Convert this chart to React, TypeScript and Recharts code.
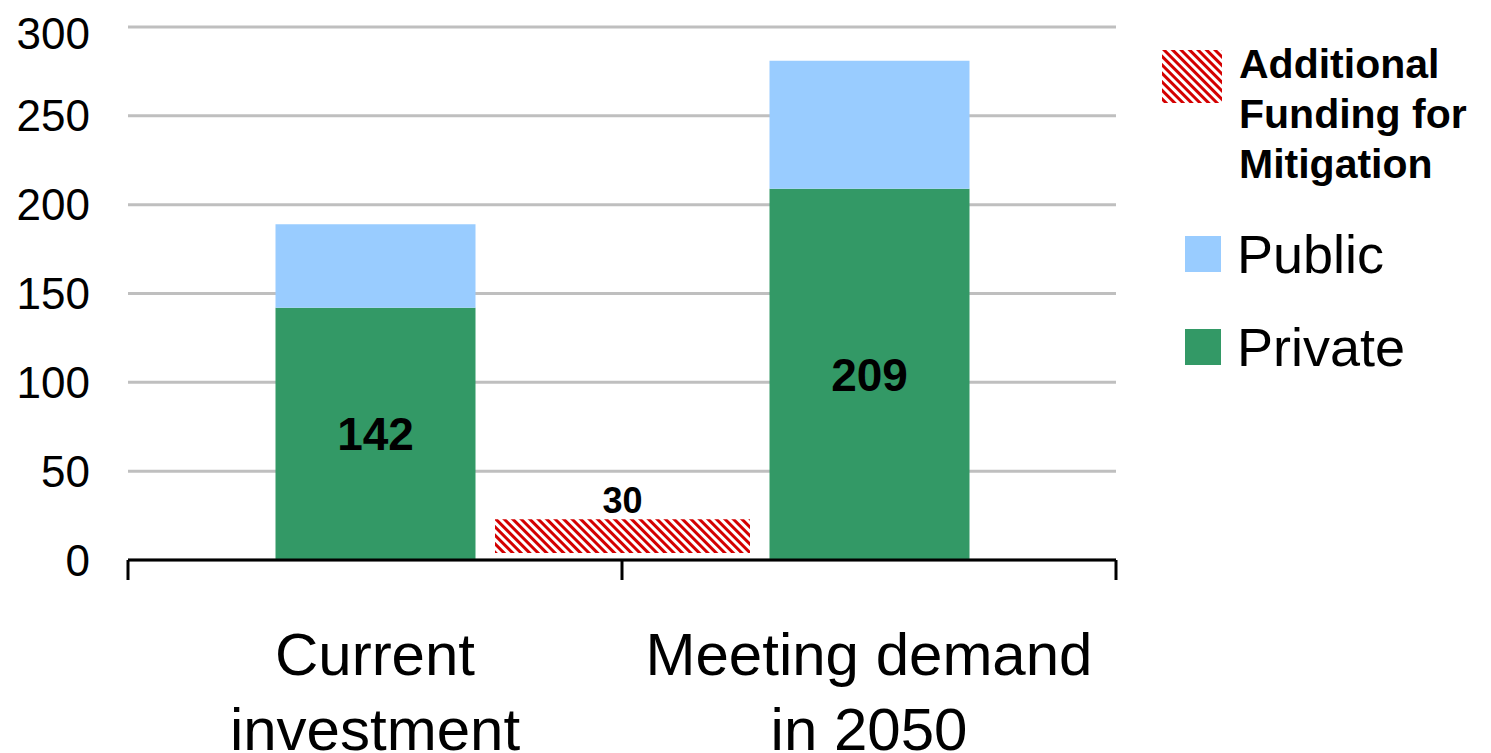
import {
  ComposedChart,
  Bar,
  XAxis,
  YAxis,
  CartesianGrid,
  LabelList,
} from "recharts";

// categories (line breaks are where the picture wraps them)
const categories = ["Current\ninvestment", "Meeting demand\nin 2050"];
const privateValues = [142, 209];
const publicValues = [47, 72];

// the hatched bar sits between the two categories
const additionalRange: [number, number] = [4, 23];
const additionalLabel = "30";

const yTicks = [0, 50, 100, 150, 200, 250, 300];
// whole numbers = tick marks between categories, halves = category names
const xTicks = [0, 0.5, 1, 1.5, 2];

const legendItems = [
  { name: "Additional\nFunding for\nMitigation", kind: "hatch" },
  { name: "Public", color: "#99ccff" },
  { name: "Private", color: "#339966" },
];

const data = [
  { pos: 0.5, private: privateValues[0], public: publicValues[0] },
  { pos: 1, additional: additionalRange, additionalLabel },
  { pos: 1.5, private: privateValues[1], public: publicValues[1] },
];

const FONT = '"Liberation Sans", Arial, sans-serif';

const XTick = (props: any) => {
  const { x, y, payload } = props;
  const v = payload.value;
  if (Number.isInteger(v)) {
    return <line x1={x} x2={x} y1={y} y2={y + 20} stroke="#000" strokeWidth={3} />;
  }
  const lines = (categories[Math.floor(v)] || "").split("\n");
  return (
    <text x={x} y={y} textAnchor="middle" fontSize={60} fontFamily={FONT} fill="#000">
      {lines.map((l, i) => (
        <tspan key={i} x={x} dy={i === 0 ? 115 : 75}>
          {l}
        </tspan>
      ))}
    </text>
  );
};

const Legend = () => (
  <div style={{ position: "absolute", left: 1150, top: 0, fontFamily: FONT, color: "#000" }}>
    <svg width={60} height={53} style={{ position: "absolute", left: 4, top: 42 }}>
      <rect width={60} height={53} fill="url(#hatch)" />
    </svg>
    <div
      style={{
        position: "absolute",
        left: 81,
        top: 31,
        fontSize: 41,
        fontWeight: "bold",
        lineHeight: "50px",
        whiteSpace: "pre",
      }}
    >
      {legendItems[0].name}
    </div>
    {legendItems.slice(1).map((it, i) => (
      <div key={it.name}>
        <div
          style={{
            position: "absolute",
            left: 27,
            top: 228 + i * 93,
            width: 36,
            height: 36,
            background: it.color,
          }}
        />
        <div
          style={{
            position: "absolute",
            left: 79,
            top: 215 + i * 93,
            fontSize: 54,
            lineHeight: "62px",
            whiteSpace: "pre",
          }}
        >
          {it.name}
        </div>
      </div>
    ))}
  </div>
);

export default function App() {
  return (
    <div style={{ position: "relative", width: 1475, height: 745 }}>
      <ComposedChart
        width={1475}
        height={745}
        data={data}
        margin={{ top: 19, right: 367, bottom: 0, left: 0 }}
      >
        <defs>
          <pattern
            id="hatch"
            width={6}
            height={6}
            patternUnits="userSpaceOnUse"
            patternTransform="rotate(-45)"
          >
            <rect width={6} height={6} fill="#ffffff" />
            <rect width={3} height={6} fill="#d40000" />
          </pattern>
        </defs>
        <CartesianGrid
          xAxisId="main"
          vertical={false}
          stroke="#bfbfbf"
          strokeWidth={3}
        />
        <XAxis
          xAxisId="main"
          type="number"
          dataKey="pos"
          domain={[0, 2]}
          ticks={xTicks}
          interval={0}
          height={193}
          axisLine={{ stroke: "#000", strokeWidth: 3 }}
          tickLine={false}
          tickSize={0}
          tickMargin={0}
          tick={<XTick />}
        />
        <XAxis
          xAxisId="gap"
          type="number"
          dataKey="pos"
          domain={[0.5, 1.5]}
          orientation="top"
          height={0}
          hide
        />
        <YAxis
          domain={[0, 300]}
          ticks={yTicks}
          width={120}
          axisLine={false}
          tickLine={false}
          tickSize={0}
          tickMargin={38}
          tick={{ fontSize: 44, fill: "#000", fontFamily: FONT }}
        />
        <Bar
          xAxisId="main"
          dataKey="private"
          stackId="a"
          fill="#339966"
          barSize={200}
          isAnimationActive={false}
        >
          <LabelList
            dataKey="private"
            position="center"
            fill="#000"
            fontSize={46}
            fontWeight="bold"
            fontFamily={FONT}
          />
        </Bar>
        <Bar
          xAxisId="main"
          dataKey="public"
          stackId="a"
          fill="#99ccff"
          barSize={200}
          isAnimationActive={false}
        />
        <Bar
          xAxisId="gap"
          dataKey="additional"
          fill="url(#hatch)"
          barSize={255}
          isAnimationActive={false}
        >
          <LabelList
            dataKey="additionalLabel"
            position="top"
            offset={6}
            fill="#000"
            fontSize={36}
            fontWeight="bold"
            fontFamily={FONT}
          />
        </Bar>
      </ComposedChart>
      <Legend />
    </div>
  );
}
